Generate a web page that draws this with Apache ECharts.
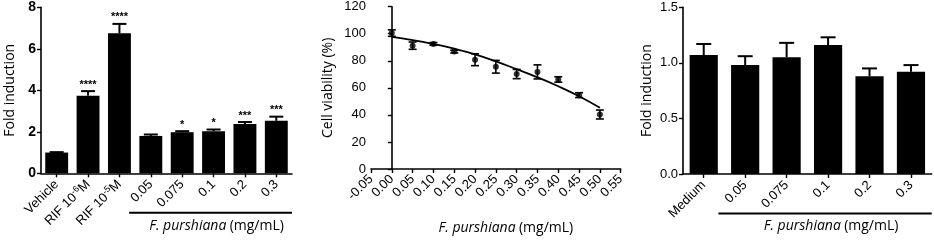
<!DOCTYPE html>
<html><head><meta charset="utf-8">
<script src="https://cdn.jsdelivr.net/npm/echarts@6/dist/echarts.min.js"></script>
<style>html,body{margin:0;padding:0;background:#fff}#c{width:934px;height:240px}</style>
</head><body><div id="c"></div>
<script>
// Panel A: PXR activation (fold induction)
const catsA = ['Vehicle', 'RIF 10^-6M', 'RIF 10^-5M', '0.05', '0.075', '0.1', '0.2', '0.3'];
const foldA = [1.0, 3.74, 6.75, 1.80, 1.98, 2.03, 2.37, 2.53];
const errA = [0.02, 0.22, 0.45, 0.07, 0.05, 0.08, 0.10, 0.20];
const sigA = ['', '****', '****', '', '*', '*', '***', '***'];
const yTicksA = [0, 2, 4, 6, 8];
// Panel B: cell viability
const concB = [0, 0.05, 0.10, 0.15, 0.20, 0.25, 0.30, 0.35, 0.40, 0.45, 0.50];
const viabB = [100.5, 91.2, 92.5, 86.8, 80.8, 75.6, 70.2, 71.8, 66.2, 54.6, 40.3];
const errB = [2.4, 2.7, 1.0, 1.0, 4.4, 4.7, 3.4, 5.2, 2.0, 1.8, 3.3];
const fitB = [97.7, 95.3, 92.4, 89.0, 84.8, 79.6, 73.8, 67.8, 61.2, 53.8, 45.3];
const xTicksB = [-0.05, 0.55, 0.05];
// Panel C: fold induction
const catsC = ['Medium', '0.05', '0.075', '0.1', '0.2', '0.3'];
const foldC = [1.07, 0.98, 1.05, 1.16, 0.88, 0.92];
const errC = [0.10, 0.08, 0.13, 0.07, 0.07, 0.06];
const sigC = ['', '', '', '', '', ''];

const FONT = 'Arial, "Liberation Sans", sans-serif';
const TFONT = '"Open Sans", sans-serif';
const axisLine = {show: true, lineStyle: {color: '#000', width: 1.6}};
const axisTick = {show: true, length: 4, lineStyle: {color: '#000', width: 1.4}};

function supLabel(v) {
  const m = /^(.*)\^(-?\d+)(.*)$/.exec(v);
  if (!m) return '{n|' + v + '}';
  return '{n|' + m[1] + '}{s|' + m[2] + '}{n|' + m[3] + '}';
}

function errBarsUpper(capHalf) {
  return function (params, api) {
    const x = api.value(0), v = api.value(1), e = api.value(2);
    const sig = sigStore[params.seriesId][params.dataIndex];
    const top = api.coord([x, v + e]);
    const base = api.coord([x, v]);
    const children = [
      {type: 'line', shape: {x1: base[0], y1: base[1], x2: top[0], y2: top[1]}, style: {stroke: '#000', lineWidth: 2}},
      {type: 'line', shape: {x1: top[0] - capHalf, y1: top[1], x2: top[0] + capHalf, y2: top[1]}, style: {stroke: '#000', lineWidth: 2}}
    ];
    if (sig) children.push({type: 'text', style: {text: sig, x: top[0], y: top[1] - 1, align: 'center', verticalAlign: 'bottom', font: 'bold 11px ' + FONT, fill: '#000'}});
    return {type: 'group', children: children};
  };
}
const sigStore = {errA: sigA, errC: sigC};

function bracket(params, api) {
  const a = api.value(0), b = api.value(1);
  const band = api.size([1, 0])[0];
  const p1 = api.coord([a, 0]), p2 = api.coord([b, 0]);
  const x1 = p1[0] - band / 2 - 6, x2 = p2[0] + band / 2;
  const y = p1[1] + 39.5;
  return {type: 'group', children: [
    {type: 'line', shape: {x1: x1, y1: y, x2: x2, y2: y}, style: {stroke: '#000', lineWidth: 2}},
    {type: 'text', style: {rich: {i: {fontStyle: 'italic', font: 'italic 14px ' + TFONT, fill: '#000'}, n: {font: '14px ' + TFONT, fill: '#000'}}, text: '{i|F. purshiana} {n|(mg/mL)}', x: (x1 + x2) / 2 + 6, y: y + 6, align: 'center', verticalAlign: 'top'}}
  ]};
}

const chart = echarts.init(document.getElementById('c'), null, {renderer: 'canvas'});
chart.setOption({
  animation: false,
  textStyle: {fontFamily: FONT, color: '#000'},
  grid: [
    {left: 41, right: 642, top: 7.3, bottom: 66.7},
    {left: 371, right: 313.3, top: 6.7, bottom: 68.3},
    {left: 683, right: 2.3, top: 7.3, bottom: 66}
  ],
  xAxis: [
    {gridIndex: 0, type: 'category', data: catsA, axisLine: axisLine, axisTick: Object.assign({alignWithLabel: true}, axisTick),
     axisLabel: {rotate: 45, interval: 0, color: '#000', margin: 9, formatter: supLabel,
       rich: {n: {fontSize: 13, fontFamily: FONT, color: '#000', lineHeight: 16}, s: {fontSize: 9, fontFamily: FONT, color: '#000', verticalAlign: 'top', lineHeight: 16, padding: [0, 0, 6, 0]}}}},
    {gridIndex: 1, type: 'value', min: xTicksB[0], max: xTicksB[1], interval: xTicksB[2], axisLine: axisLine, axisTick: axisTick, splitLine: {show: false},
     axisLabel: {rotate: 45, fontSize: 13, color: '#000', margin: 8, fontFamily: FONT, formatter: v => v.toFixed(2), showMinLabel: true, showMaxLabel: true},
     name: '{i|F. purshiana} {n|(mg/mL)}', nameLocation: 'middle', nameGap: 52,
     nameTextStyle: {rich: {i: {fontStyle: 'italic', fontSize: 14, fontFamily: TFONT, color: '#000'}, n: {fontSize: 14, fontFamily: TFONT, color: '#000'}}, padding: [0, 0, 0, 20]}},
    {gridIndex: 2, type: 'category', data: catsC, axisLine: axisLine, axisTick: Object.assign({alignWithLabel: true}, axisTick),
     axisLabel: {rotate: 45, interval: 0, fontSize: 13, color: '#000', margin: 9, fontFamily: FONT}}
  ],
  yAxis: [
    {gridIndex: 0, type: 'value', min: yTicksA[0], max: yTicksA[yTicksA.length - 1], interval: 2, axisLine: axisLine, axisTick: axisTick, splitLine: {show: false},
     axisLabel: {fontSize: 14, color: '#000', margin: 5, fontWeight: 'bold', fontFamily: FONT},
     name: 'Fold induction', nameLocation: 'middle', nameGap: 24, nameTextStyle: {fontSize: 14, fontFamily: TFONT, color: '#000'}},
    {gridIndex: 1, type: 'value', min: 0, max: 120, interval: 20, axisLine: axisLine, axisTick: axisTick, splitLine: {show: false},
     axisLabel: {fontSize: 13, color: '#000', margin: 5, fontFamily: FONT},
     name: 'Cell viability (%)', nameLocation: 'middle', nameGap: 36, nameTextStyle: {fontSize: 14, fontFamily: TFONT, color: '#000'}},
    {gridIndex: 2, type: 'value', min: 0, max: 1.5, interval: 0.5, axisLine: axisLine, axisTick: axisTick, splitLine: {show: false},
     axisLabel: {fontSize: 13, color: '#000', margin: 5, fontFamily: FONT, formatter: v => v.toFixed(1)},
     name: 'Fold induction', nameLocation: 'middle', nameGap: 29, nameTextStyle: {fontSize: 14, fontFamily: TFONT, color: '#000'}}
  ],
  series: [
    {type: 'bar', xAxisIndex: 0, yAxisIndex: 0, data: foldA, itemStyle: {color: '#000'}, barCategoryGap: '27%'},
    {id: 'errA', type: 'custom', xAxisIndex: 0, yAxisIndex: 0, clip: false, z: 3,
     data: foldA.map((v, i) => [i, v, errA[i]]), encode: {x: 0, y: 1}, renderItem: errBarsUpper(7)},
    {type: 'custom', xAxisIndex: 0, yAxisIndex: 0, clip: false, data: [[3, 7]], encode: {x: [0, 1]}, renderItem: bracket},

    {type: 'line', xAxisIndex: 1, yAxisIndex: 1, data: concB.map((x, i) => [x, fitB[i]]), smooth: true, showSymbol: false, lineStyle: {color: '#000', width: 1.8}},
    {type: 'custom', xAxisIndex: 1, yAxisIndex: 1, clip: false, data: concB.map((x, i) => [x, viabB[i], errB[i]]), encode: {x: 0, y: 1},
     renderItem: function (params, api) {
       const x = api.value(0), v = api.value(1), e = api.value(2);
       const t = api.coord([x, v + e]), b = api.coord([x, v - e]);
       const h = 4;
       return {type: 'group', children: [
         {type: 'line', shape: {x1: t[0], y1: t[1], x2: b[0], y2: b[1]}, style: {stroke: '#000', lineWidth: 1.6}},
         {type: 'line', shape: {x1: t[0] - h, y1: t[1], x2: t[0] + h, y2: t[1]}, style: {stroke: '#000', lineWidth: 1.6}},
         {type: 'line', shape: {x1: b[0] - h, y1: b[1], x2: b[0] + h, y2: b[1]}, style: {stroke: '#000', lineWidth: 1.6}}
       ]};
     }},
    {type: 'scatter', xAxisIndex: 1, yAxisIndex: 1, data: concB.map((x, i) => [x, viabB[i]]), symbol: 'circle', symbolSize: 6, itemStyle: {color: '#000'}, z: 4},

    {type: 'bar', xAxisIndex: 2, yAxisIndex: 2, data: foldC, itemStyle: {color: '#000'}, barCategoryGap: '32%'},
    {id: 'errC', type: 'custom', xAxisIndex: 2, yAxisIndex: 2, clip: false, z: 3,
     data: foldC.map((v, i) => [i, v, errC[i]]), encode: {x: 0, y: 1}, renderItem: errBarsUpper(7.5)},
    {type: 'custom', xAxisIndex: 2, yAxisIndex: 2, clip: false, data: [[1, 5]], encode: {x: [0, 1]}, renderItem: bracket}
  ]
});
</script></body></html>
